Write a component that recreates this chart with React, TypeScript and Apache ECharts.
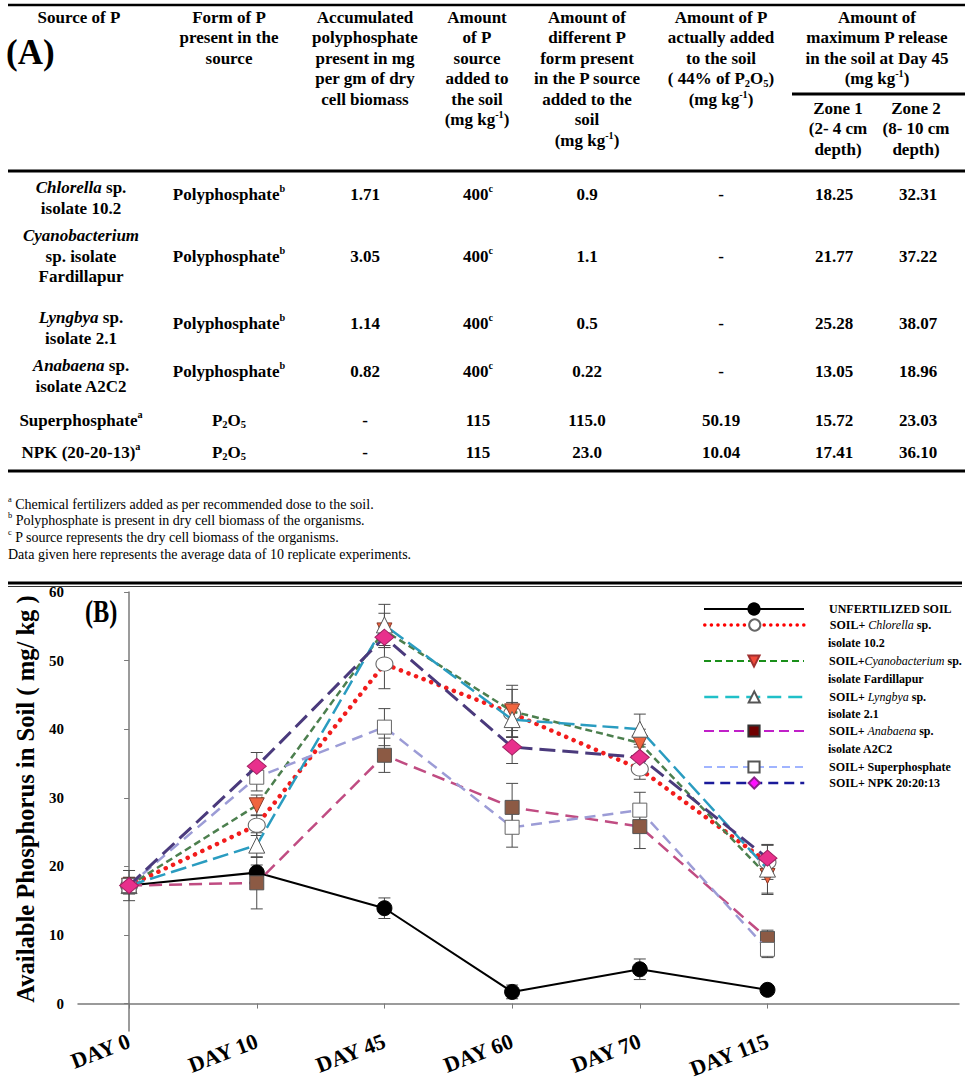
import React, { useEffect, useRef } from 'react';
import * as echarts from 'echarts';

const FONT = '"Liberation Serif", "Times New Roman", Times, serif';

// ---------------- Table (A) ----------------
const headerTexts = [
  'Source of P',
  'Form of P\npresent in the\nsource',
  'Accumulated\npolyphosphate\npresent in mg\nper gm of dry\ncell biomass',
  'Amount\nof P\nsource\nadded to\nthe soil\n(mg kg{sup|-1})',
  'Amount of\ndifferent P\nform present\nin the P source\nadded to the\nsoil\n(mg kg{sup|-1})',
  'Amount of P\nactually added\nto the soil\n( 44% of P{sub|2}O{sub|5})\n(mg kg{sup|-1})',
  'Amount of\nmaximum P release\nin the soil at Day 45\n(mg kg{sup|-1})',
];
const zoneHeaders = ['Zone 1\n(2- 4 cm\ndepth)', 'Zone 2\n(8- 10 cm\ndepth)'];

const tableSources = [
  '{bi|Chlorella} sp.\nisolate 10.2',
  '{bi|Cyanobacterium}\nsp. isolate\nFardillapur',
  '{bi|Lyngbya} sp.\nisolate 2.1',
  '{bi|Anabaena} sp.\nisolate A2C2',
  'Superphosphate{sup|a}',
  'NPK (20-20-13){sup|a}',
];
const tableForms = [
  'Polyphosphate{sup|b}',
  'Polyphosphate{sup|b}',
  'Polyphosphate{sup|b}',
  'Polyphosphate{sup|b}',
  'P{sub|2}O{sub|5}',
  'P{sub|2}O{sub|5}',
];
const tableAccumulated = ['1.71', '3.05', '1.14', '0.82', '-', '-'];
const tableAmountAdded = ['400{sup|c}', '400{sup|c}', '400{sup|c}', '400{sup|c}', '115', '115'];
const tableFormAmount = ['0.9', '1.1', '0.5', '0.22', '115.0', '23.0'];
const tableActuallyAdded = ['-', '-', '-', '-', '50.19', '10.04'];
const tableZone1 = ['18.25', '21.77', '25.28', '13.05', '15.72', '17.41'];
const tableZone2 = ['32.31', '37.22', '38.07', '18.96', '23.03', '36.10'];

const footnotes = [
  '{sup|a} Chemical fertilizers added as per recommended dose to the soil.',
  '{sup|b} Polyphosphate is present in dry cell biomass of the organisms.',
  '{sup|c} P source represents the dry cell biomass of the organisms.',
  'Data given here represents the average data of 10 replicate experiments.',
];

// ---------------- Chart (B) ----------------
const days = ['DAY 0', 'DAY 10', 'DAY 45', 'DAY 60', 'DAY 70', 'DAY 115'];
const yTicks = [0, 10, 20, 30, 40, 50, 60];

const unfertilized = [17.2, 19.1, 13.9, 1.7, 5.0, 2.0];
const unfertilizedErr = [2.2, 1.1, 1.5, 1.0, 1.5, 0.6];
const chlorella = [17.2, 26.0, 49.5, 42.3, 34.2, 20.6];
const chlorellaErr = [1.2, 1.5, 3.6, 3.5, 1.5, 2.5];
const cyanobacterium = [17.2, 28.9, 54.4, 42.6, 38.0, 18.6];
const cyanobacteriumErr = [1.2, 1.5, 2.5, 3.8, 2.0, 2.7];
const lyngbya = [17.2, 23.1, 55.2, 41.4, 40.0, 19.6];
const lyngbyaErr = [1.0, 1.8, 3.0, 2.5, 2.2, 3.5];
const anabaena = [17.2, 17.6, 36.2, 28.6, 25.8, 9.5];
const anabaenaErr = [1.0, 3.8, 2.5, 3.5, 3.2, 1.2];
const superphosphate = [17.2, 33.0, 40.3, 25.7, 28.2, 7.9];
const superphosphateErr = [1.0, 2.0, 2.7, 2.9, 2.6, 1.2];
const npk = [17.2, 34.6, 53.4, 37.4, 35.9, 21.2];
const npkErr = [1.0, 2.0, 1.5, 2.4, 1.5, 2.0];

const legendFirst = [
  'UNFERTILIZED SOIL',
  'SOIL+ {i|Chlorella} sp.',
  'SOIL+{i|Cyanobacterium} sp.',
  'SOIL+ {i|Lyngbya} sp.',
  'SOIL+ {i|Anabaena} sp.',
  'SOIL+ Superphosphate',
  'SOIL+ NPK 20:20:13',
];
const legendSecond = ['', 'isolate 10.2', 'isolate Fardillapur', 'isolate 2.1', 'isolate A2C2', '', ''];

const seriesDefs = [
  {
    name: 'UNFERTILIZED SOIL', values: unfertilized, errors: unfertilizedErr,
    line: { color: '#000000', width: 2, type: 'solid' },
    symbol: 'circle', symbolSize: 15, symbolRotate: 0,
    item: { color: '#000000', borderColor: '#000000', borderWidth: 1 },
    legendLine: { color: '#000000', width: 2 },
    legendItem: { color: '#000000', borderColor: '#000000' },
  },
  {
    name: 'SOIL+ Chlorella sp. isolate 10.2', values: chlorella, errors: chlorellaErr,
    line: { color: '#f21c1c', width: 4.5, type: [0.1, 8], cap: 'round' },
    symbol: 'circle', symbolSize: [17, 14], symbolRotate: 0,
    item: { color: '#ffffff', borderColor: '#666666', borderWidth: 1 },
    legendLine: { color: '#ff0000', width: 3.5, type: [0.1, 6.5], cap: 'round' },
    legendItem: { color: '#ffffff', borderColor: '#666666' },
  },
  {
    name: 'SOIL+Cyanobacterium sp. isolate Fardillapur', values: cyanobacterium, errors: cyanobacteriumErr,
    line: { color: '#4c7f4e', width: 2.5, type: [7, 4] },
    symbol: 'triangle', symbolSize: 15, symbolRotate: 180,
    item: { color: '#f0653f', borderColor: '#8a3a2a', borderWidth: 1 },
    legendLine: { color: '#1a8f1a', width: 2, type: [7, 4] },
    legendItem: { color: '#f04a3a', borderColor: '#a03030' },
  },
  {
    name: 'SOIL+ Lyngbya sp. isolate 2.1', values: lyngbya, errors: lyngbyaErr,
    line: { color: '#2a9cc0', width: 2.5, type: [16, 6] },
    symbol: 'triangle', symbolSize: 16, symbolRotate: 0,
    item: { color: '#ffffff', borderColor: '#555555', borderWidth: 1 },
    legendLine: { color: '#20c0c8', width: 2.5, type: [14, 7] },
    legendItem: { color: '#ffffff', borderColor: '#555555' },
  },
  {
    name: 'SOIL+ Anabaena sp. isolate A2C2', values: anabaena, errors: anabaenaErr,
    line: { color: '#c04c82', width: 2.5, type: [13, 7] },
    symbol: 'rect', symbolSize: 14, symbolRotate: 0,
    item: { color: '#8c5a44', borderColor: '#555555', borderWidth: 1 },
    legendLine: { color: '#c020c8', width: 2, type: [10, 5] },
    legendItem: { color: '#700000', borderColor: '#333333' },
  },
  {
    name: 'SOIL+ Superphosphate', values: superphosphate, errors: superphosphateErr,
    line: { color: '#9c9cd6', width: 2.5, type: [11, 7] },
    symbol: 'rect', symbolSize: 14, symbolRotate: 0,
    item: { color: '#ffffff', borderColor: '#666666', borderWidth: 1 },
    legendLine: { color: '#a0b4ff', width: 2, type: [8, 5] },
    legendItem: { color: '#ffffff', borderColor: '#555555' },
  },
  {
    name: 'SOIL+ NPK 20:20:13', values: npk, errors: npkErr,
    line: { color: '#4a3a7c', width: 3, type: [16, 7] },
    symbol: 'diamond', symbolSize: [19, 16], symbolRotate: 0,
    item: { color: '#e8308c', borderColor: '#a02060', borderWidth: 1 },
    legendLine: { color: '#1a1a9a', width: 2.5, type: [10, 6] },
    legendItem: { color: '#ff10ff', borderColor: '#8a208a' },
  },
];

// layout
const headerX = [79, 229, 365, 477, 587, 721, 877];
const zoneX = [838, 916];
const colX = [81, 229, 365, 478, 587, 721, 834, 918];
const valueY = [194, 256, 323, 371, 420, 452];
const sourceY = [198, 256, 328, 376, 420, 452];
const footY = [504, 520, 537, 554];
const legendRowY = [609, 625, 661, 697, 731, 767, 783];
const legendSecondY = [0, 643, 679, 714, 749, 0, 0];

function richFor(fs: number, fw: string) {
  return {
    sup: { fontSize: fs * 0.6, fontWeight: fw, fontFamily: FONT, verticalAlign: 'top', lineHeight: fs * 0.85, fill: '#000' },
    sub: { fontSize: fs * 0.62, fontWeight: fw, fontFamily: FONT, verticalAlign: 'bottom', lineHeight: fs * 0.9, fill: '#000' },
    bi: { fontSize: fs, fontWeight: 'bold', fontStyle: 'italic', fontFamily: FONT, fill: '#000' },
    i: { fontSize: fs, fontWeight: 'normal', fontStyle: 'italic', fontFamily: FONT, fill: '#000' },
  };
}

function txt(x: number, y: number, text: string, o: any = {}) {
  const fs = o.fs ?? 17;
  const fw = o.fw ?? 'bold';
  return {
    type: 'text',
    x, y,
    silent: true,
    scaleX: o.sx ?? 1,
    rotation: o.rot ?? 0,
    style: {
      text,
      fontFamily: FONT,
      fontSize: fs,
      fontWeight: fw,
      fill: '#000',
      align: o.align ?? 'center',
      verticalAlign: o.va ?? 'middle',
      lineHeight: o.lh ?? 20.5,
      rich: richFor(fs, fw),
    },
  };
}

function hline(x1: number, x2: number, y: number, w: number) {
  return { type: 'line', silent: true, shape: { x1, y1: y, x2, y2: y }, style: { stroke: '#000', lineWidth: w } };
}

function buildGraphics() {
  const els: any[] = [];
  // table rules
  els.push(hline(8, 965, 5, 2.5));
  els.push(hline(792, 965, 94, 3));
  els.push(hline(8, 965, 171, 3));
  els.push(hline(8, 965, 471, 3));
  // (A)
  els.push(txt(6, 52, '(A)', { fs: 35, align: 'left' }));
  // headers
  headerTexts.forEach((h, k) => {
    els.push(txt(headerX[k], 7, h, { va: 'top' }));
  });
  zoneHeaders.forEach((h, k) => {
    els.push(txt(zoneX[k], 98, h, { va: 'top' }));
  });
  // body
  const cols = [tableForms, tableAccumulated, tableAmountAdded, tableFormAmount, tableActuallyAdded, tableZone1, tableZone2];
  tableSources.forEach((s, r) => {
    els.push(txt(colX[0], sourceY[r], s));
    cols.forEach((c, k) => {
      els.push(txt(colX[k + 1], valueY[r], c[r]));
    });
  });
  // footnotes
  footnotes.forEach((f, k) => {
    els.push(txt(8, footY[k], f, { fs: 14, fw: 'normal', align: 'left', lh: 17 }));
  });
  // chart panel top rule
  els.push(hline(8, 962, 583, 3));
  els.push(hline(8, 962, 586.5, 0.8));
  // (B)
  els.push(txt(85, 611, '(B)', { fs: 32, sx: 0.76, align: 'left' }));
  // y-axis title
  els.push(txt(25, 799, 'Available Phosphorus in Soil ( mg/ kg )', { fs: 24.6, rot: Math.PI / 2 }));
  // legend second lines
  legendSecond.forEach((t, k) => {
    if (t) els.push(txt(828, legendSecondY[k], t, { fs: 12, align: 'left', lh: 14 }));
  });
  return els;
}

function buildOption() {
  const errorData: number[][] = [];
  seriesDefs.forEach((s) => {
    s.values.forEach((v, i) => errorData.push([i, v - s.errors[i], v + s.errors[i]]));
  });

  const lineSeries = seriesDefs.map((s, k) => ({
    type: 'line',
    name: s.name,
    z: 3 + k * 0.01,
    data: s.values.map((v, i) => [i, v]),
    symbol: s.symbol,
    symbolSize: s.symbolSize,
    symbolRotate: s.symbolRotate,
    showAllSymbol: true,
    lineStyle: s.line,
    itemStyle: s.item,
    emphasis: { disabled: true },
  }));

  const errorSeries = {
    type: 'custom',
    name: 'errors',
    z: 2,
    silent: true,
    data: errorData,
    encode: { x: 0, y: [1, 2] },
    renderItem: (params: any, api: any) => {
      const x = api.value(0);
      const lo = api.coord([x, api.value(1)]);
      const hi = api.coord([x, api.value(2)]);
      const hw = 6;
      const st = { stroke: '#4a4a4a', lineWidth: 1 };
      return {
        type: 'group',
        children: [
          { type: 'line', shape: { x1: lo[0], y1: lo[1], x2: hi[0], y2: hi[1] }, style: st },
          { type: 'line', shape: { x1: lo[0] - hw, y1: lo[1], x2: lo[0] + hw, y2: lo[1] }, style: st },
          { type: 'line', shape: { x1: hi[0] - hw, y1: hi[1], x2: hi[0] + hw, y2: hi[1] }, style: st },
        ],
      };
    },
  };

  const legends = seriesDefs.map((s, k) => ({
    data: [{ name: s.name, itemStyle: s.legendItem, lineStyle: s.legendLine }],
    left: 703,
    top: legendRowY[k] - 7,
    orient: 'vertical',
    itemWidth: 100,
    itemHeight: 14,
    padding: 0,
    selectedMode: false,
    formatter: () => legendFirst[k],
    textStyle: {
      fontFamily: FONT,
      fontSize: 12,
      fontWeight: 'bold',
      color: '#000',
      lineHeight: 14,
      padding: [0, 0, 0, 20],
      rich: {
        i: { fontFamily: FONT, fontSize: 12, fontStyle: 'italic', fontWeight: 'normal', color: '#000', lineHeight: 14 },
      },
    },
  }));

  return {
    animation: false,
    backgroundColor: '#ffffff',
    grid: { left: 78, top: 592, right: 10, bottom: 61, containLabel: false, outerBoundsMode: 'none' },
    xAxis: {
      type: 'value',
      min: -0.4,
      max: 6.5,
      axisLine: { show: true, lineStyle: { color: '#7a7a7a', width: 1.5 } },
      axisTick: { show: true, customValues: days.map((_, i) => i), length: 5, lineStyle: { color: '#7a7a7a' } },
      axisLabel: {
        show: true,
        customValues: days.map((_, i) => i),
        formatter: (v: number) => days[Math.round(v)] ?? '',
        rotate: 21,
        margin: 9,
        fontFamily: FONT,
        fontSize: 22,
        fontWeight: 'bold',
        color: '#000',
      },
      splitLine: { show: false },
    },
    yAxis: {
      type: 'value',
      min: -4,
      max: 60,
      axisLine: { show: true, lineStyle: { color: '#7a7a7a', width: 1.5 } },
      axisTick: { show: true, customValues: yTicks, length: 5, lineStyle: { color: '#7a7a7a' } },
      axisLabel: {
        show: true,
        customValues: yTicks,
        margin: 14,
        fontFamily: FONT,
        fontSize: 15,
        fontWeight: 'bold',
        color: '#000',
      },
      splitLine: { show: false },
    },
    legend: legends,
    series: [errorSeries, ...lineSeries],
    graphic: { elements: buildGraphics() },
  };
}

export default function App() {
  const ref = useRef<HTMLDivElement>(null);
  useEffect(() => {
    document.body.style.margin = '0';
    if (!ref.current) return;
    const chart = echarts.init(ref.current, null, { renderer: 'svg' });
    chart.setOption(buildOption() as any);
    return () => chart.dispose();
  }, []);
  return <div ref={ref} style={{ width: 969, height: 1092, background: '#fff' }} />;
}
